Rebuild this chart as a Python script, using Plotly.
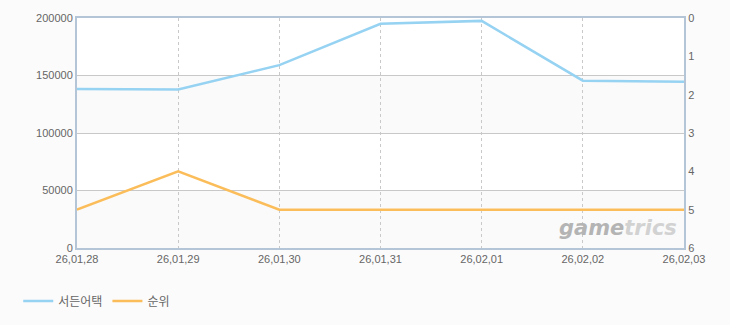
import plotly.graph_objects as go

dates = ["26,01,28", "26,01,29", "26,01,30", "26,01,31", "26,02,01", "26,02,02", "26,02,03"]
sudden_attack = [138200, 137800, 159000, 195000, 197500, 145500, 144500]
rank = [5, 4, 5, 5, 5, 5, 5]
series_names = ["서든어택", "순위"]

x = list(range(len(dates)))

AXIS = "#b3c5d7"
TXT = "#666666"
FONT = "Liberation Sans, Arial, Noto Sans CJK KR, sans-serif"

fig = go.Figure()
fig.add_trace(go.Scatter(x=x, y=sudden_attack, name=series_names[0], mode="lines",
                         line=dict(color="#96d2f2", width=2.5), yaxis="y"))
fig.add_trace(go.Scatter(x=x, y=rank, name=series_names[1], mode="lines",
                         line=dict(color="#fbbd5a", width=2.5), yaxis="y2"))

# alternating bands
for lo, hi in [(0, 50000), (100000, 150000)]:
    fig.add_shape(type="rect", xref="x", yref="y", x0=0, x1=6, y0=lo, y1=hi,
                  fillcolor="#fafafa", line=dict(width=0), layer="below")

fig.add_annotation(xref="paper", yref="paper", x=0.892, y=0.085, showarrow=False,
                   text="<b><i><span style='color:#b4b4b4'>game</span><span style='color:#d2d2d2'>trics</span></i></b>",
                   font=dict(size=21, family="DejaVu Sans, sans-serif"), xanchor="center", yanchor="middle")

fig.update_layout(
    width=730, height=325,
    margin=dict(l=77, r=46, t=16, b=77),
    paper_bgcolor="#fbfbfb", plot_bgcolor="#ffffff",
    font=dict(family=FONT, size=11, color=TXT),
    showlegend=True,
    legend=dict(orientation="h", xref="container", yref="container",
                x=0.025, y=(325 - 301) / 325, xanchor="left", yanchor="middle",
                font=dict(size=12, color=TXT, family="Noto Sans CJK KR, sans-serif"),
                bgcolor="rgba(0,0,0,0)", itemwidth=30, tracegroupgap=0),
    xaxis=dict(range=[0, 6], tickvals=x, ticktext=dates, showgrid=True,
               gridcolor="#c9c9c9", griddash="3px,3px", gridwidth=1,
               showline=True, linecolor=AXIS, linewidth=2, mirror=True,
               zeroline=False, ticks="", tickfont=dict(size=11, color=TXT)),
    yaxis=dict(range=[0, 200000], dtick=50000, showgrid=True, gridcolor="#c8c8c8",
               gridwidth=1, showline=True, linecolor=AXIS, linewidth=2, mirror=True,
               zeroline=False, ticks="", tickformat="d", tickfont=dict(size=11, color=TXT)),
    yaxis2=dict(range=[6, 0], dtick=1, overlaying="y", side="right", showgrid=False,
                showline=True, linecolor=AXIS, linewidth=2, zeroline=False, ticks="",
                tickfont=dict(size=11, color=TXT)),
)

fig.write_html("out.html")
